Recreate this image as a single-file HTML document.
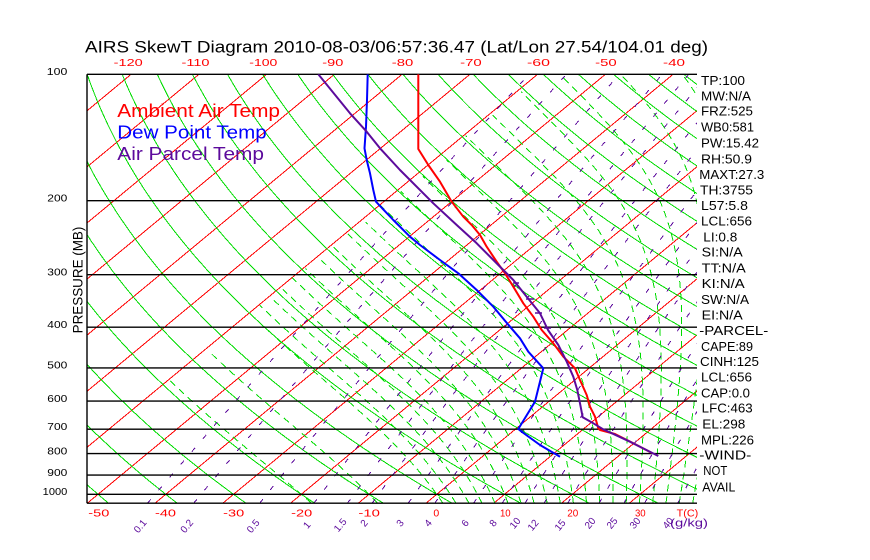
<!DOCTYPE html>
<html><head><meta charset="utf-8">
<style>
html,body{margin:0;padding:0;background:#fff;}
svg{display:block;}
text{font-family:"Liberation Sans",sans-serif;}
</style></head>
<body>
<svg id="s" xmlns="http://www.w3.org/2000/svg" width="870" height="560" viewBox="0 0 870 560">
<defs><clipPath id="c"><rect x="87" y="74.3" width="610" height="429"/></clipPath></defs>
<rect x="0" y="0" width="870" height="560" fill="#fff"/>
<g id="bg" clip-path="url(#c)" fill="none" shape-rendering="crispEdges"></g>

<!-- pressure lines & axis -->
<g stroke="#000" stroke-width="1.4" fill="none">
<line x1="87" y1="74.3" x2="697" y2="74.3"/>
<line x1="87" y1="200.7" x2="697" y2="200.7"/>
<line x1="87" y1="274.7" x2="697" y2="274.7"/>
<line x1="87" y1="327.2" x2="697" y2="327.2"/>
<line x1="87" y1="367.9" x2="697" y2="367.9"/>
<line x1="87" y1="401.1" x2="697" y2="401.1"/>
<line x1="87" y1="429.2" x2="697" y2="429.2"/>
<line x1="87" y1="453.6" x2="697" y2="453.6"/>
<line x1="87" y1="475.1" x2="697" y2="475.1"/>
<line x1="87" y1="494.3" x2="697" y2="494.3"/>
<line x1="87" y1="503.2" x2="697" y2="503.2"/>
<line x1="87" y1="74.3" x2="87" y2="503.2"/>
</g>

<!-- data profiles -->
<g fill="none" stroke-width="2" stroke-linejoin="round" clip-path="url(#c)">
<polyline stroke="#ff0000" points="418.3,74.3 418.3,149 428.3,165 440,181.7 451.7,201.7 463.3,216.7 471.7,225 480,235 486.7,246.7 496.7,261.7 505,273.3 513.3,286.7 523.3,303.3 533.3,316.7 541.7,330 553.3,343.3 563.3,356.7 575,368.3 580,380 586.7,395 590,406.7 595,416.7 598.3,428.3 600,430 615,434 633.3,443.3 652,453"/>
<polyline stroke="#0000ff" points="367.7,74.3 367,100 366,126.7 364.5,148.3 366.7,160 370,173.3 373.3,190 376,201.7 393.3,220 410,236.7 420,245 440,260 458.3,273.3 476.7,290 493.3,306.7 510,326.7 520,338.3 528.3,351.7 543.3,368.3 535,401.7 518.3,429 521.7,431.7 540,445 560,456.7"/>
<polyline stroke="#5c0a9c" points="318.3,74.3 350,113.3 366.7,131.7 380,148.3 400,170 433.3,203.3 456.7,225 476.7,243.3 503.3,270 513.3,280 526.7,296.7 540,313.3 548,330 558.3,345 566.7,361.7 573.3,376.7 577.3,390 580,403.3 582.7,417.3 593.3,423.3 603.3,429.3 630,441.7 658.3,456"/>
<g stroke="#5c0a9c" stroke-width="1.5">
<line x1="513" y1="283" x2="519" y2="283"/>
<line x1="527" y1="299" x2="534" y2="299"/>
<line x1="535" y1="313" x2="542" y2="313"/>
<line x1="544" y1="328" x2="551" y2="328"/>
</g>
</g>

<!-- title -->
<text x="85" y="52.7" font-size="16.5" textLength="623" lengthAdjust="spacingAndGlyphs" fill="#000">AIRS SkewT Diagram 2010-08-03/06:57:36.47 (Lat/Lon 27.54/104.01 deg)</text>

<!-- top temp labels -->
<g fill="#ff0000" font-size="10.5" text-anchor="end">
<text x="142.7" y="66" textLength="29" lengthAdjust="spacingAndGlyphs">-120</text>
<text x="209.5" y="66" textLength="28" lengthAdjust="spacingAndGlyphs">-110</text>
<text x="277.3" y="66" textLength="28" lengthAdjust="spacingAndGlyphs">-100</text>
<text x="343.3" y="66" textLength="21" lengthAdjust="spacingAndGlyphs">-90</text>
<text x="413.3" y="66" textLength="21.5" lengthAdjust="spacingAndGlyphs">-80</text>
<text x="481.7" y="66" textLength="21.5" lengthAdjust="spacingAndGlyphs">-70</text>
<text x="550" y="66" textLength="23" lengthAdjust="spacingAndGlyphs">-60</text>
<text x="616.7" y="66" textLength="21.5" lengthAdjust="spacingAndGlyphs">-50</text>
<text x="685" y="66" textLength="22" lengthAdjust="spacingAndGlyphs">-40</text>
</g>

<!-- bottom temp labels -->
<g fill="#ff0000" font-size="10.5" text-anchor="middle">
<text x="98.8" y="516.7" textLength="21" lengthAdjust="spacingAndGlyphs">-50</text>
<text x="165.5" y="516.7" textLength="21" lengthAdjust="spacingAndGlyphs">-40</text>
<text x="233.7" y="516.7" textLength="21" lengthAdjust="spacingAndGlyphs">-30</text>
<text x="301.7" y="516.7" textLength="21" lengthAdjust="spacingAndGlyphs">-20</text>
<text x="369.2" y="516.7" textLength="21.5" lengthAdjust="spacingAndGlyphs">-10</text>
<text x="436.3" y="516.7">0</text>
<text x="505.3" y="516.7" textLength="10.7" lengthAdjust="spacingAndGlyphs">10</text>
<text x="572.8" y="516.7" textLength="11" lengthAdjust="spacingAndGlyphs">20</text>
<text x="640.3" y="516.7" textLength="10.7" lengthAdjust="spacingAndGlyphs">30</text>
<text x="687.5" y="516.7" textLength="21.6" lengthAdjust="spacingAndGlyphs">T(C)</text>
</g>

<!-- mixing ratio labels -->
<g fill="#5c0a9c" font-size="10" text-anchor="middle">
<text transform="translate(140,526) rotate(-50)" y="3.5">0.1</text>
<text transform="translate(186.7,526) rotate(-50)" y="3.5">0.2</text>
<text transform="translate(253,526) rotate(-50)" y="3.5">0.5</text>
<text transform="translate(306.7,525) rotate(-50)" y="3.5">1</text>
<text transform="translate(340,525) rotate(-50)" y="3.5">1.5</text>
<text transform="translate(364,523) rotate(-50)" y="3.5">2</text>
<text transform="translate(400,523) rotate(-50)" y="3.5">3</text>
<text transform="translate(428,523) rotate(-50)" y="3.5">4</text>
<text transform="translate(465,523) rotate(-50)" y="3.5">6</text>
<text transform="translate(493,523) rotate(-50)" y="3.5">8</text>
<text transform="translate(515,523) rotate(-50)" y="3.5">10</text>
<text transform="translate(533,525) rotate(-50)" y="3.5">12</text>
<text transform="translate(560,525) rotate(-50)" y="3.5">15</text>
<text transform="translate(590,523) rotate(-50)" y="3.5">20</text>
<text transform="translate(612,523) rotate(-50)" y="3.5">25</text>
<text transform="translate(635,523) rotate(-50)" y="3.5">30</text>
<text transform="translate(668,523) rotate(-50)" y="3.5">40</text>
</g>
<text x="670" y="526.5" font-size="11" fill="#5c0a9c" textLength="38" lengthAdjust="spacingAndGlyphs">(g/kg)</text>

<!-- pressure labels -->
<g fill="#000" font-size="10.5" text-anchor="end">
<text x="67.3" y="75" textLength="20.5" lengthAdjust="spacingAndGlyphs">100</text>
<text x="67.3" y="201.5" textLength="20" lengthAdjust="spacingAndGlyphs">200</text>
<text x="67.3" y="275.5" textLength="20" lengthAdjust="spacingAndGlyphs">300</text>
<text x="67.3" y="328" textLength="20" lengthAdjust="spacingAndGlyphs">400</text>
<text x="67.3" y="368.7" textLength="20" lengthAdjust="spacingAndGlyphs">500</text>
<text x="67.3" y="401.9" textLength="20" lengthAdjust="spacingAndGlyphs">600</text>
<text x="67.3" y="430" textLength="20" lengthAdjust="spacingAndGlyphs">700</text>
<text x="67.3" y="454.4" textLength="20" lengthAdjust="spacingAndGlyphs">800</text>
<text x="67.3" y="475.9" textLength="20" lengthAdjust="spacingAndGlyphs">900</text>
<text x="67.3" y="495.1" textLength="24.6" lengthAdjust="spacingAndGlyphs">1000</text>
</g>
<text transform="translate(82.7,280) rotate(-90)" text-anchor="middle" font-size="13.5" fill="#000" textLength="106.7" lengthAdjust="spacingAndGlyphs">PRESSURE (MB)</text>

<!-- legend -->
<text x="117.3" y="116.8" font-size="18" fill="#ff0000" textLength="162.7" lengthAdjust="spacingAndGlyphs">Ambient Air Temp</text>
<text x="117.3" y="138.3" font-size="18" fill="#0000ff" textLength="149.4" lengthAdjust="spacingAndGlyphs">Dew Point Temp</text>
<text x="117.3" y="159.8" font-size="18" fill="#5c0a9c" textLength="146.7" lengthAdjust="spacingAndGlyphs">Air Parcel Temp</text>

<!-- right side indices -->
<g fill="#000" font-size="13">
<text x="701" y="85" textLength="44" lengthAdjust="spacingAndGlyphs">TP:100</text>
<text x="701" y="100.7" textLength="50" lengthAdjust="spacingAndGlyphs">MW:N/A</text>
<text x="701" y="115.7" textLength="52" lengthAdjust="spacingAndGlyphs">FRZ:525</text>
<text x="701" y="131.7" textLength="53" lengthAdjust="spacingAndGlyphs">WB0:581</text>
<text x="701" y="147.3" textLength="58" lengthAdjust="spacingAndGlyphs">PW:15.42</text>
<text x="701" y="163.3" textLength="51" lengthAdjust="spacingAndGlyphs">RH:50.9</text>
<text x="699.3" y="179" textLength="65" lengthAdjust="spacingAndGlyphs">MAXT:27.3</text>
<text x="700" y="194.3" textLength="53" lengthAdjust="spacingAndGlyphs">TH:3755</text>
<text x="701" y="210" textLength="47" lengthAdjust="spacingAndGlyphs">L57:5.8</text>
<text x="701" y="225.7" textLength="51" lengthAdjust="spacingAndGlyphs">LCL:656</text>
<text x="703.3" y="241.7" textLength="34" lengthAdjust="spacingAndGlyphs">LI:0.8</text>
<text x="701.7" y="256.7" textLength="41" lengthAdjust="spacingAndGlyphs">SI:N/A</text>
<text x="701.7" y="272.3" textLength="44" lengthAdjust="spacingAndGlyphs">TT:N/A</text>
<text x="701.7" y="288" textLength="43" lengthAdjust="spacingAndGlyphs">KI:N/A</text>
<text x="701" y="304" textLength="48" lengthAdjust="spacingAndGlyphs">SW:N/A</text>
<text x="701.7" y="319.3" textLength="41" lengthAdjust="spacingAndGlyphs">EI:N/A</text>
<text x="699.3" y="335" textLength="69" lengthAdjust="spacingAndGlyphs">-PARCEL-</text>
<text x="701" y="351" textLength="52" lengthAdjust="spacingAndGlyphs">CAPE:89</text>
<text x="700" y="366" textLength="59" lengthAdjust="spacingAndGlyphs">CINH:125</text>
<text x="701" y="381.7" textLength="51" lengthAdjust="spacingAndGlyphs">LCL:656</text>
<text x="701" y="397.7" textLength="49" lengthAdjust="spacingAndGlyphs">CAP:0.0</text>
<text x="701.7" y="412.7" textLength="51" lengthAdjust="spacingAndGlyphs">LFC:463</text>
<text x="702.3" y="428.3" textLength="43" lengthAdjust="spacingAndGlyphs">EL:298</text>
<text x="701" y="444.3" textLength="53" lengthAdjust="spacingAndGlyphs">MPL:226</text>
<text x="699.3" y="459.3" textLength="52" lengthAdjust="spacingAndGlyphs">-WIND-</text>
<text x="703.3" y="475" textLength="24" lengthAdjust="spacingAndGlyphs">NOT</text>
<text x="702.3" y="491.7" textLength="33" lengthAdjust="spacingAndGlyphs">AVAIL</text>
</g>
</svg>
<script>
(function(){
var NS='http://www.w3.org/2000/svg';
var g=document.getElementById('bg');
var Y0=74.3,B=182.4,X0=98,S=6.775,K=1.208,Y10=494.3;
function yp(p){return Y0+B*Math.log(p/100);}
function xt(T,p){return X0+S*(T+50)+K*(Y10-yp(p));}
function pl(pts,col,w,dash){
 var e=document.createElementNS(NS,'polyline');
 e.setAttribute('points',pts.map(function(a){return a[0].toFixed(1)+','+a[1].toFixed(1);}).join(' '));
 e.setAttribute('stroke',col);e.setAttribute('stroke-width',w);e.setAttribute('fill','none');
 if(dash)e.setAttribute('stroke-dasharray',dash);
 g.appendChild(e);
}
var T,p,i,a;
// isotherms
for(T=-140;T<=40;T+=10){pl([[xt(T,1050),yp(1050)],[xt(T,100),yp(100)]],'#ff0000',1);}
// dry adiabats
for(var th=-50;th<=200;th+=10){a=[];for(p=1050;p>=100;p-=5){var t=(th+273.15)*Math.pow(p/1000,0.2857)-273.15;a.push([xt(t,p),yp(p)]);}pl(a,'#00dc00',1);}
// moist adiabats
function es(c){return 6.112*Math.exp(17.67*c/(c+243.5));}
function f(T,p){var e=es(T-273.15);var r=0.622*e/(p-e);return (287.04*T+2.501e6*r)/((1005.7+2.501e6*2.501e6*r*0.622/(287.04*T*T))*p);}
function integ(T,p0,p1,dp){var out=[[T,p0]];var p=p0;var n=Math.round(Math.abs(p1-p0)/Math.abs(dp));for(var j=0;j<n;j++){var k1=f(T,p),k2=f(T+dp*k1/2,p+dp/2),k3=f(T+dp*k2/2,p+dp/2),k4=f(T+dp*k3,p+dp);T+=dp*(k1+2*k2+2*k3+k4)/6;p+=dp;out.push([T,p]);}return out;}
var tw=[-20,-10];for(var q=0;q<=40;q+=2)tw.push(q);
tw.forEach(function(w){
 var up=integ(w+273.15,1000,100,-5);var dn=integ(w+273.15,1000,1050,5);a=[];
 for(i=dn.length-1;i>0;i--)a.push([xt(dn[i][0]-273.15,dn[i][1]),yp(dn[i][1])]);
 for(i=0;i<up.length;i++){var tc=up[i][0]-273.15;if(tc<-60)break;a.push([xt(tc,up[i][1]),yp(up[i][1])]);}
 pl(a,'#00dc00',1,'7 5');
});
// mixing ratio lines
var ws=[0.1,0.2,0.5,1,1.5,2,3,4,6,8,10,12,15,20,25,30,40];
ws.forEach(function(w){a=[];for(p=1050;p>=100;p-=10){var e=w*p/(622+w);var l=Math.log(e/6.112);var td=243.5*l/(17.67-l);a.push([xt(td,p),yp(p)]);}pl(a,'#5c0a9c',1,'5 12');});
})();
</script>
</body></html>
